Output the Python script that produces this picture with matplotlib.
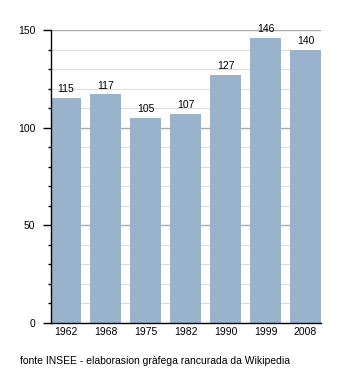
import matplotlib.pyplot as plt
import numpy as np
from matplotlib.ticker import MultipleLocator

plt.rcParams["font.family"] = ["Liberation Sans", "DejaVu Sans"]

years = ["1962", "1968", "1975", "1982", "1990", "1999", "2008"]
population = [115, 117, 105, 107, 127, 146, 140]

fig = plt.figure(figsize=(3.5, 3.73), dpi=100)
ax = fig.add_axes([50.5 / 350, 50 / 373, 270.5 / 350, 293 / 373])

x = np.arange(len(years))
ax.bar(x, population, width=0.775, color="#99b3cc", zorder=2)
for xi, v in zip(x, population):
    ax.text(xi, v + 2, str(v), ha="center", va="bottom", fontsize=7.5, zorder=3)

ax.set_xlim(-0.3875, len(years) - 1 + 0.3875)
ax.set_ylim(0, 150)
ax.set_xticks(x)
ax.set_xticklabels(years)
ax.yaxis.set_major_locator(MultipleLocator(50))
ax.yaxis.set_minor_locator(MultipleLocator(10))

# light grid every 10, darker lines at the labelled values
for y in range(10, 160, 10):
    major = y % 50 == 0
    ax.axhline(y, color="#aaaaaa" if major else "#dddddd",
               lw=1.0 if major else 0.8, zorder=1)

for side in ("top", "right"):
    ax.spines[side].set_visible(False)
ax.spines["left"].set_linewidth(1.0)
ax.spines["bottom"].set_linewidth(1.0)
ax.tick_params(axis="y", which="major", length=6, width=1.0, labelsize=7.5, pad=5)
ax.tick_params(axis="y", which="minor", length=2.5, width=1.0)
ax.tick_params(axis="x", length=0, labelsize=7.5, pad=3)

fig.text(20 / 350, 1 - 361 / 373, "fonte INSEE - elaborasion gràfega rancurada da Wikipedia",
         fontsize=7.5, va="center", ha="left")

fig.savefig("out.png", dpi=100)
